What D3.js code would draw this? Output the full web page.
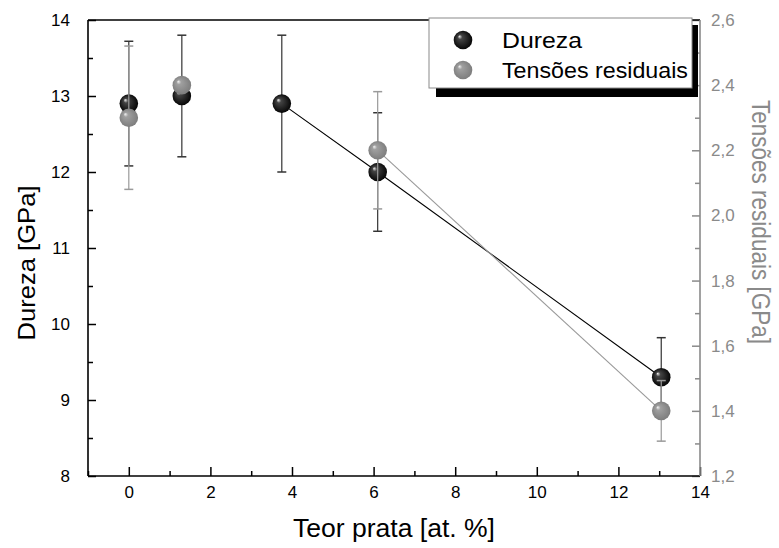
<!DOCTYPE html>
<html><head><meta charset="utf-8">
<script src="https://cdn.jsdelivr.net/npm/d3@7"></script>
<style>body{margin:0;background:#fff}svg{display:block;font-family:"Liberation Sans",Arial,sans-serif}</style>
</head><body><svg id="c" width="779" height="548"></svg>
<script>
const durezaX = [0, 1.3, 3.75, 6.1, 13.05];
const durezaY = [12.9, 13.0, 12.9, 12.0, 9.3];
const durezaErr = [0.82, 0.8, 0.9, 0.78, 0.52];
const durezaLine = [false, false, true, true, true];
const tensaoX = [0, 1.3, 6.1, 13.05];
const tensaoY = [2.3, 2.4, 2.2, 1.4];
const tensaoErr = [0.22, 0.02, 0.18, 0.093];
const tensaoLine = [false, false, true, true];
const xTicks = [0, 2, 4, 6, 8, 10, 12, 14];
const yLeftTicks = [8, 9, 10, 11, 12, 13, 14];
const yRightTicks = [1.2, 1.4, 1.6, 1.8, 2.0, 2.2, 2.4, 2.6];
const legendLabels = ["Dureza", "Tensões residuais"];

const svg = d3.select("#c");
const L = 88, R = 700, T = 20, B = 476;
const x = d3.scaleLinear().domain([-1, 14]).range([L, R]);
const yL = d3.scaleLinear().domain([8, 14]).range([B, T]);
const yR = d3.scaleLinear().domain([1.2, 2.6]).range([B, T]);
const grey = "#8a8a8a";

const defs = svg.append("defs");
function grad(id, c0, c1, c2) {
  const g = defs.append("radialGradient").attr("id", id).attr("cx", "0.5").attr("cy", "0.5").attr("r", "0.55").attr("fx", "0.3").attr("fy", "0.3");
  g.append("stop").attr("offset", "0").attr("stop-color", c0);
  g.append("stop").attr("offset", "0.22").attr("stop-color", c1);
  g.append("stop").attr("offset", "1").attr("stop-color", c2);
}
grad("gBlack", "#f0f0f0", "#444", "#000");
grad("gGrey", "#f4f4f4", "#a0a0a0", "#7a7a7a");

function fitText(sel, len) {
  sel.attr("textLength", len).attr("lengthAdjust", "spacingAndGlyphs");
}

// Axes
const fmtR = d => d3.format(".1f")(d).replace(".", ",");
svg.append("g").attr("transform", `translate(0,${B})`)
  .call(d3.axisBottom(x).tickValues(xTicks).tickSize(-9).tickPadding(10).tickFormat(d3.format("d")));
svg.append("g").attr("transform", `translate(0,${B})`)
  .call(d3.axisBottom(x).tickValues(d3.range(-1, 14, 1).filter(v => v % 2 !== 0)).tickSize(-5).tickFormat(""));
svg.append("g").attr("transform", `translate(${L},0)`)
  .call(d3.axisLeft(yL).tickValues(yLeftTicks).tickSize(-8).tickPadding(18).tickFormat(d3.format("d")));
svg.append("g").attr("transform", `translate(${L},0)`)
  .call(d3.axisLeft(yL).tickValues(d3.range(8.5, 14, 1)).tickSize(-5).tickFormat(""));
const gr = svg.append("g").attr("transform", `translate(${R},0)`)
  .call(d3.axisRight(yR).tickValues(yRightTicks).tickSize(-8).tickPadding(11).tickFormat(fmtR));
const gr2 = svg.append("g").attr("transform", `translate(${R},0)`)
  .call(d3.axisRight(yR).tickValues(d3.range(1.3, 2.6, 0.2)).tickSize(-5).tickFormat(""));
svg.selectAll(".domain").remove();
svg.selectAll(".tick line").attr("stroke-width", 1.5);
svg.selectAll(".tick text").attr("font-size", 17).attr("fill", "#000");
gr.selectAll(".tick text").attr("fill", grey);
gr.selectAll(".tick line").attr("stroke", grey);
gr2.selectAll(".tick line").attr("stroke", grey);

// frame
svg.append("line").attr("x1", L).attr("x2", R).attr("y1", B).attr("y2", B).attr("stroke", "#000").attr("stroke-width", 1.6);
svg.append("line").attr("x1", L).attr("x2", R).attr("y1", T).attr("y2", T).attr("stroke", "#000").attr("stroke-width", 1.6);
svg.append("line").attr("x1", L).attr("x2", L).attr("y1", T).attr("y2", B).attr("stroke", "#000").attr("stroke-width", 1.6);
svg.append("line").attr("x1", R).attr("x2", R).attr("y1", T).attr("y2", B).attr("stroke", grey).attr("stroke-width", 1.6);

// Axis titles
svg.append("text").attr("transform", `translate(35,263) rotate(-90)`).attr("text-anchor", "middle")
  .attr("font-size", 24).text("Dureza [GPa]").call(fitText, 155);
svg.append("text").attr("x", 394).attr("y", 537).attr("text-anchor", "middle")
  .attr("font-size", 25).text("Teor prata [at. %]").call(fitText, 202);
svg.append("text").attr("transform", `translate(752,222) rotate(90)`).attr("text-anchor", "middle")
  .attr("font-size", 25).attr("fill", grey).text("Tensões residuais [GPa]").call(fitText, 244);

// Series
function drawSeries(xs, ys, errs, lineFlags, ys_scale, lineColor, errColor) {
  const pts = xs.map((d, i) => ({ x: d, y: ys[i], e: errs[i], l: lineFlags[i] }));
  const g = svg.append("g");
  const eb = g.selectAll(".eb").data(pts).join("g");
  eb.append("line").attr("x1", d => x(d.x)).attr("x2", d => x(d.x))
    .attr("y1", d => ys_scale(d.y - d.e)).attr("y2", d => ys_scale(d.y + d.e)).attr("stroke", errColor).attr("stroke-width", 1.2);
  [-1, 1].forEach(s => eb.append("line").attr("x1", d => x(d.x) - 4.5).attr("x2", d => x(d.x) + 4.5)
    .attr("y1", d => ys_scale(d.y + s * d.e)).attr("y2", d => ys_scale(d.y + s * d.e)).attr("stroke", errColor).attr("stroke-width", 1.5));
  const lp = pts.filter(d => d.l);
  g.append("path").attr("d", d3.line().x(d => x(d.x)).y(d => ys_scale(d.y))(lp)).attr("fill", "none").attr("stroke", lineColor).attr("stroke-width", 1.1);
  return { g, pts };
}
const s1 = drawSeries(durezaX, durezaY, durezaErr, durezaLine, yL, "#000", "#333");
const s2 = drawSeries(tensaoX, tensaoY, tensaoErr, tensaoLine, yR, "#999", "#9a9a9a");
s1.g.selectAll(".m").data(s1.pts).join("circle").attr("cx", d => x(d.x)).attr("cy", d => yL(d.y)).attr("r", 9.3).attr("fill", "url(#gBlack)");
s2.g.selectAll(".m").data(s2.pts).join("circle").attr("cx", d => x(d.x)).attr("cy", d => yR(d.y)).attr("r", 9.3).attr("fill", "url(#gGrey)");

// Legend
const lg = svg.append("g");
lg.append("rect").attr("x", 436).attr("y", 25).attr("width", 262).attr("height", 72).attr("fill", "#000");
lg.append("rect").attr("x", 429).attr("y", 18).attr("width", 263).attr("height", 70).attr("fill", "#fff").attr("stroke", grey).attr("stroke-width", 1);
const lgItems = [{ t: legendLabels[0], f: "url(#gBlack)", y: 40, w: 80 }, { t: legendLabels[1], f: "url(#gGrey)", y: 70, w: 186 }];
lgItems.forEach(it => {
  lg.append("circle").attr("cx", 463).attr("cy", it.y).attr("r", 9.3).attr("fill", it.f);
  lg.append("text").attr("x", 502).attr("y", it.y + 7.5).attr("font-size", 21.5).text(it.t).call(fitText, it.w);
});
</script></body></html>
